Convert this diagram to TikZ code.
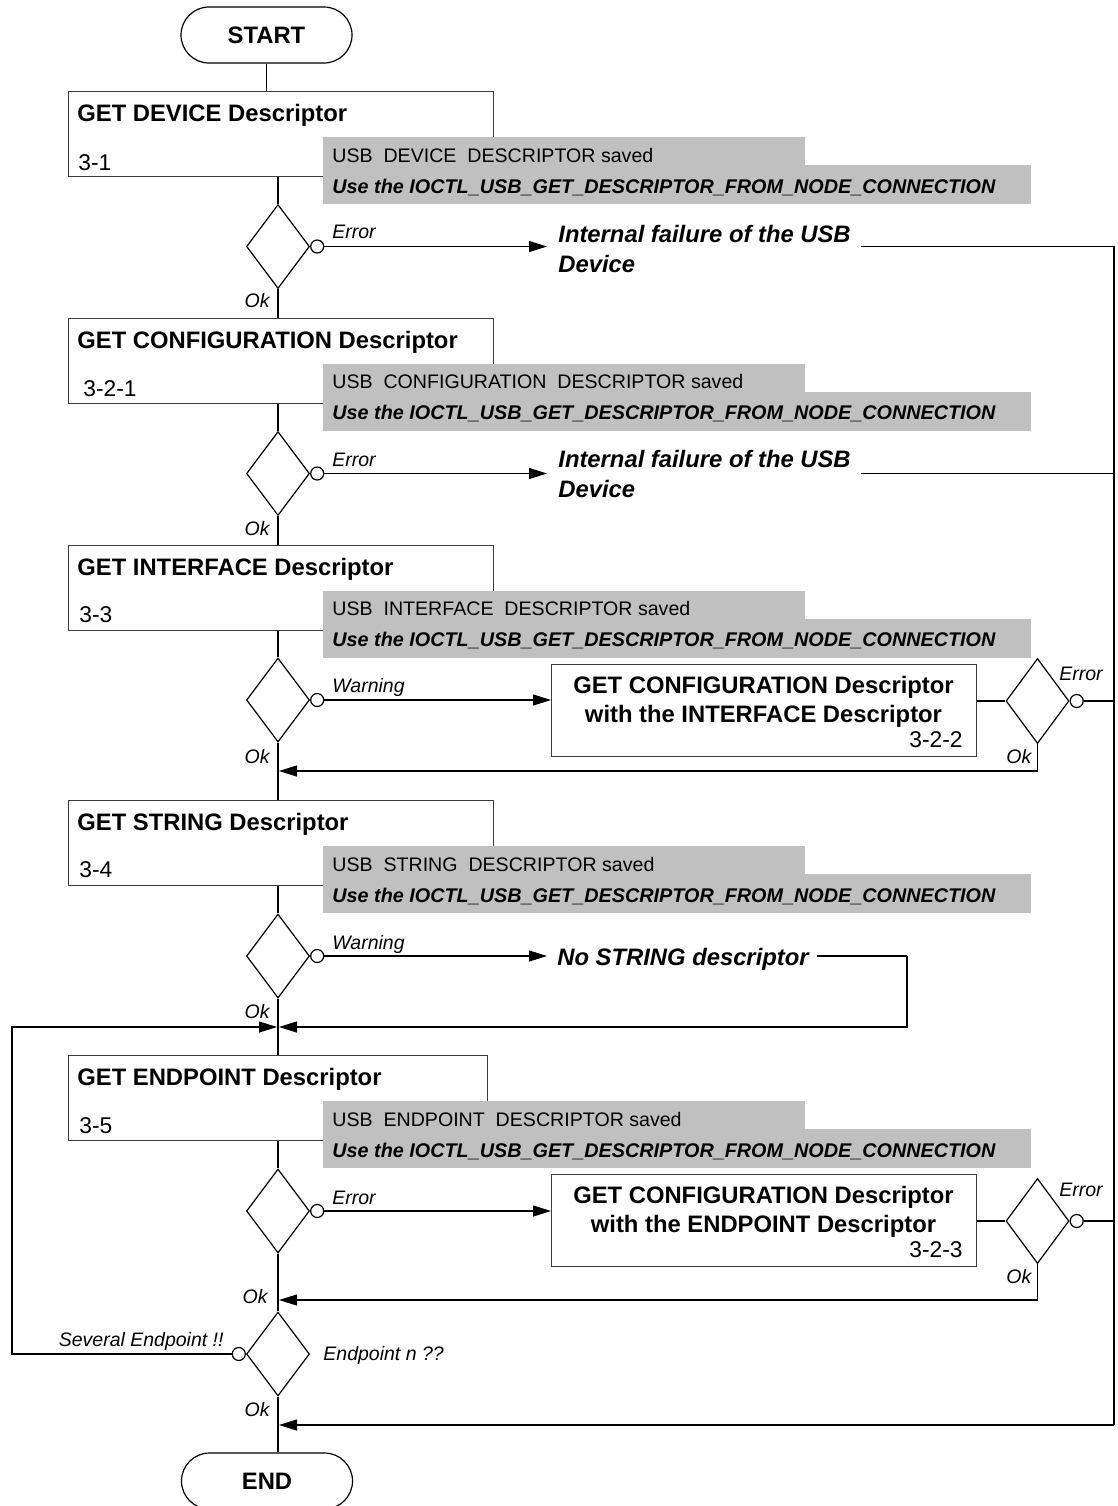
\documentclass[tikz,border=0pt]{standalone}
\usepackage{fontspec}
\setmainfont{Liberation Sans}
\usetikzlibrary{arrows.meta,shapes.geometric}
\definecolor{grayfill}{RGB}{192,192,192}
\definecolor{boxline}{RGB}{60,60,60}
\newcommand\myhead{\bfseries\fontsize{11.9pt}{14pt}\selectfont}
\newcommand\mynum{\fontsize{11.4pt}{13pt}\selectfont}
\newcommand\mygray{\fontsize{9.8pt}{12pt}\selectfont}
\newcommand\mygrayb{\bfseries\itshape\fontsize{9.9pt}{12pt}\selectfont}
\newcommand\mylbl{\itshape\fontsize{9.75pt}{12pt}\selectfont}
\tikzset{
  stepbox/.style={draw=boxline, line width=0.7pt, inner sep=0, anchor=north west, minimum width=212.5pt, minimum height=42.5pt},
  sidebox/.style={draw=boxline, line width=0.7pt, inner sep=0, anchor=north west, minimum width=212.5pt, minimum height=46pt},
  grayup/.style={fill=grayfill, inner sep=0, anchor=north west, minimum width=241pt, minimum height=14pt},
  graylow/.style={fill=grayfill, inner sep=0, anchor=north west, minimum width=354pt, minimum height=19.5pt},
  dia/.style={diamond, draw, line width=0.6pt, inner sep=0, minimum width=31.5pt, minimum height=42pt},
  circ/.style={circle, draw, fill=white, line width=0.6pt, inner sep=0, minimum size=6.5pt},
  term/.style={draw, line width=0.6pt, rounded corners=14pt, minimum width=85.5pt, minimum height=28pt, inner sep=0, font=\myhead},
  txt/.style={inner sep=0, anchor=base west},
  txtr/.style={inner sep=0, anchor=base east},
  txtc/.style={inner sep=0, anchor=base},
  conn/.style={draw, line width=0.6pt},
  arr/.style={conn, -{Triangle[length=9pt,width=5.5pt]}}
}
\begin{document}
\begin{tikzpicture}[x=0.5pt,y=-0.5pt]
\useasboundingbox (0,0) rectangle (1118,1506);
\clip (0,0) rectangle (1118,1506);

% terminals
\node[term] (start) at (266.5,35) {START};
\node[term] (end) at (267,1481) {END};

% step boxes
\node[stepbox] (b1) at (68,91) {};
\node[stepbox] (b2) at (68,317.5) {};
\node[stepbox] (b3) at (68,544.5) {};
\node[stepbox] (b4) at (68,800) {};
\node[stepbox, minimum width=209.5pt] (b5) at (68,1055) {};

\node[txt, font=\myhead] (h1) at (77,121) {GET DEVICE Descriptor};
\node[txt, font=\myhead] (h2) at (77,348) {GET CONFIGURATION Descriptor};
\node[txt, font=\myhead] (h3) at (77,575) {GET INTERFACE Descriptor};
\node[txt, font=\myhead] (h4) at (77,830) {GET STRING Descriptor};
\node[txt, font=\myhead] (h5) at (77,1085) {GET ENDPOINT Descriptor};

\node[txt, font=\mynum] (n1) at (78,170) {3-1};
\node[txt, font=\mynum] (n2) at (83,396) {3-2-1};
\node[txt, font=\mynum] (n3) at (79,622) {3-3};
\node[txt, font=\mynum] (n4) at (79,877) {3-4};
\node[txt, font=\mynum] (n5) at (79,1133) {3-5};

% gray notes
\node[grayup] (g1a) at (323,137) {};
\node[graylow] (g1b) at (323,165) {};
\node[grayup] (g2a) at (323,363.5) {};
\node[graylow] (g2b) at (323,391.5) {};
\node[grayup] (g3a) at (323,590.5) {};
\node[graylow] (g3b) at (323,618.5) {};
\node[grayup] (g4a) at (323,846) {};
\node[graylow] (g4b) at (323,874) {};
\node[grayup] (g5a) at (323,1101) {};
\node[graylow] (g5b) at (323,1129) {};

\node[txt, font=\mygray] (t1a) at (332,162) {USB\ \ DEVICE\ \ DESCRIPTOR saved};
\node[txt, font=\mygrayb] (t1b) at (332,193) {Use the IOCTL\_USB\_GET\_DESCRIPTOR\_FROM\_NODE\_CONNECTION};
\node[txt, font=\mygray] (t2a) at (332,388.5) {USB\ \ CONFIGURATION\ \ DESCRIPTOR saved};
\node[txt, font=\mygrayb] (t2b) at (332,419.5) {Use the IOCTL\_USB\_GET\_DESCRIPTOR\_FROM\_NODE\_CONNECTION};
\node[txt, font=\mygray] (t3a) at (332,615.5) {USB\ \ INTERFACE\ \ DESCRIPTOR saved};
\node[txt, font=\mygrayb] (t3b) at (332,646.5) {Use the IOCTL\_USB\_GET\_DESCRIPTOR\_FROM\_NODE\_CONNECTION};
\node[txt, font=\mygray] (t4a) at (332,871) {USB\ \ STRING\ \ DESCRIPTOR saved};
\node[txt, font=\mygrayb] (t4b) at (332,902) {Use the IOCTL\_USB\_GET\_DESCRIPTOR\_FROM\_NODE\_CONNECTION};
\node[txt, font=\mygray] (t5a) at (332,1126) {USB\ \ ENDPOINT\ \ DESCRIPTOR saved};
\node[txt, font=\mygrayb] (t5b) at (332,1157) {Use the IOCTL\_USB\_GET\_DESCRIPTOR\_FROM\_NODE\_CONNECTION};

% decisions on main axis
\node[dia] (d1) at (278,246.5) {};
\node[dia] (d2) at (278,473.5) {};
\node[dia] (d3) at (278,700) {};
\node[dia] (d4) at (278,956) {};
\node[dia] (d5) at (278,1211) {};
\node[dia] (d6) at (278,1354) {};
\node[circ, anchor=west] (c1) at (d1.east) {};
\node[circ, anchor=west] (c2) at (d2.east) {};
\node[circ, anchor=west] (c3) at (d3.east) {};
\node[circ, anchor=west] (c4) at (d4.east) {};
\node[circ, anchor=west] (c5) at (d5.east) {};
\node[circ, anchor=east] (c6) at (d6.west) {};

% side boxes
\node[sidebox] (s1) at (551,664) {};
\node[txtc, font=\myhead] (s1a) at (763.5,693) {GET CONFIGURATION Descriptor};
\node[txtc, font=\myhead] (s1b) at (763.5,722) {with the INTERFACE Descriptor};
\node[txtr, font=\mynum] (s1n) at (963,747) {3-2-2};
\node[sidebox] (s2) at (551,1174) {};
\node[txtc, font=\myhead] (s2a) at (763.5,1203) {GET CONFIGURATION Descriptor};
\node[txtc, font=\myhead] (s2b) at (763.5,1232) {with the ENDPOINT Descriptor};
\node[txtr, font=\mynum] (s2n) at (963,1257) {3-2-3};

\node[dia, minimum height=42.5pt] (d3r) at (1037.5,701) {};
\node[dia, minimum height=42.5pt] (d5r) at (1037.5,1221) {};
\node[circ, anchor=west] (c3r) at (d3r.east) {};
\node[circ, anchor=west] (c5r) at (d5r.east) {};

% outcome texts
\node[txt, font=\myhead\itshape] (f1) at (558,242) {Internal failure of the USB};
\node[txt, font=\myhead\itshape] (f1b) at (558,272) {Device};
\node[txt, font=\myhead\itshape] (f2) at (558,467) {Internal failure of the USB};
\node[txt, font=\myhead\itshape] (f2b) at (558,497) {Device};
\node[txt, font=\myhead\itshape] (ns) at (557,965) {No STRING descriptor};

% labels
\node[txt, font=\mylbl] (e1) at (332,238) {Error};
\node[txt, font=\mylbl] (e2) at (332,466) {Error};
\node[txt, font=\mylbl] (w3) at (332,692) {Warning};
\node[txt, font=\mylbl] (w4) at (332,949) {Warning};
\node[txt, font=\mylbl] (e5) at (332,1204) {Error};
\node[txtr, font=\mylbl] (o1) at (270,307) {Ok};
\node[txtr, font=\mylbl] (o2) at (270,535) {Ok};
\node[txtr, font=\mylbl] (o3) at (270,763) {Ok};
\node[txtr, font=\mylbl] (o4) at (270,1018) {Ok};
\node[txtr, font=\mylbl] (o5) at (268,1303) {Ok};
\node[txtr, font=\mylbl] (o6) at (270,1416) {Ok};
\node[txtr, font=\mylbl] (sev) at (224,1346) {Several Endpoint !!};
\node[txt, font=\mylbl] (epn) at (323,1360) {Endpoint n ??};
\node[txt, font=\mylbl] (e3r) at (1059,680) {Error};
\node[txt, font=\mylbl] (o3r) at (1006,763) {Ok};
\node[txt, font=\mylbl] (e5r) at (1059,1196) {Error};
\node[txt, font=\mylbl] (o5r) at (1006,1283) {Ok};

% free points
\coordinate (r1) at (1114,246.5);
\coordinate (r2) at (1114,473.5);
\coordinate (rB) at (1114,1425);
\coordinate (k3) at (278,771);
\coordinate (k4) at (278,1027);
\coordinate (k5) at (278,1300);
\coordinate (kB) at (278,1425);
\coordinate (nsr) at (907,956);
\coordinate (L) at (12,1027);

% main axis
\draw[conn] (start.south) -- (start.south |- b1.north);
\draw[conn] (d1.north |- b1.south) -- (d1.north);
\draw[conn] (d1.south) -- (d1.south |- b2.north);
\draw[conn] (d2.north |- b2.south) -- (d2.north);
\draw[conn] (d2.south) -- (d2.south |- b3.north);
\draw[conn] (d3.north |- b3.south) -- (d3.north);
\draw[conn] (d3.south) -- (d3.south |- b4.north);
\draw[conn] (d4.north |- b4.south) -- (d4.north);
\draw[conn] (d4.south) -- (d4.south |- b5.north);
\draw[conn] (d5.north |- b5.south) -- (d5.north);
\draw[conn] (d5.south) -- (d6.north);
\draw[conn] (d6.south) -- (d6.south |- end.north);

% error branches
\draw[arr] (c1.east) -- ([xshift=-5.5pt]c1 -| f1.west);
\draw[conn] ([xshift=5pt]f1.east |- c1) -- (r1) -- (rB);
\draw[arr] (rB) -- ([xshift=0.5pt]kB);
\draw[arr] (c2.east) -- ([xshift=-5.5pt]c2 -| f2.west);
\draw[conn] ([xshift=5pt]f2.east |- c2) -- (r2);

% interface warning branch
\draw[arr] (c3.east) -- (s1.west |- c3);
\draw[conn] (s1.east |- d3r) -- (d3r.west);
\draw[conn] (c3r.east) -- (c3r -| r1);
\draw[arr] (d3r.south) |- ([xshift=0.5pt]k3);

% string warning branch
\draw[arr] (c4.east) -- ([xshift=-5pt]c4 -| ns.west);
\draw[conn] ([xshift=4pt]ns.east |- c4) -- (nsr);
\draw[arr] (nsr) |- ([xshift=0.5pt]k4);

% endpoint error branch
\draw[arr] (c5.east) -- (s2.west |- c5);
\draw[conn] (s2.east |- d5r) -- (d5r.west);
\draw[conn] (c5r.east) -- (c5r -| r1);
\draw[arr] (d5r.south) |- ([xshift=0.5pt]k5);

% several endpoints loop
\draw[arr] (c6.west) -| (L) -- ([xshift=-0.5pt]k4);
\end{tikzpicture}
\end{document}
